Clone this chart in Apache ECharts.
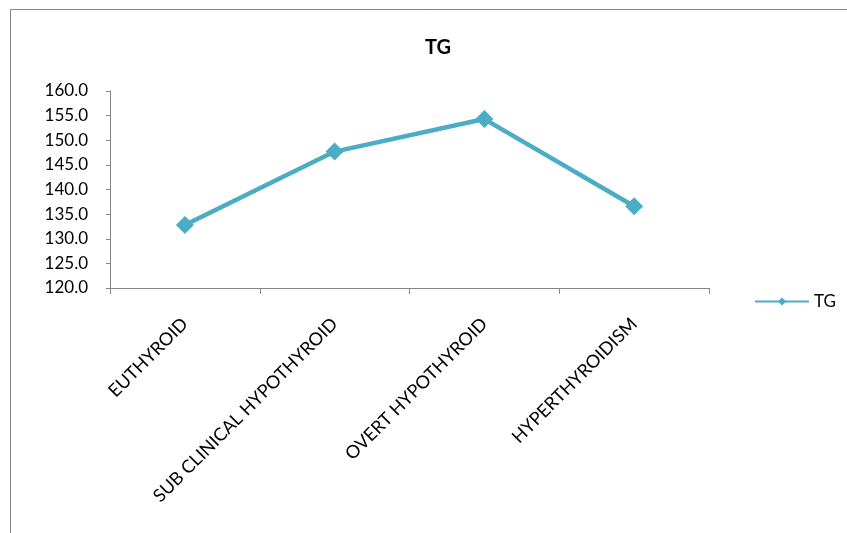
<!DOCTYPE html>
<html><head><meta charset="utf-8">
<script src="https://cdn.jsdelivr.net/npm/echarts@6/dist/echarts.min.js"></script>
<style>html,body{margin:0;padding:0;background:#fff}#c{width:847px;height:533px}</style>
</head><body><div id="c"></div>
<script>
const categories = ["EUTHYROID", "SUB CLINICAL HYPOTHYROID", "OVERT HYPOTHYROID", "HYPERTHYROIDISM"];
const tgValues = [132.8, 147.7, 154.3, 136.6];
const seriesName = "TG";
const chartTitle = "TG";

const font = "Lato, 'Open Sans', sans-serif";
const chart = echarts.init(document.getElementById('c'));
chart.setOption({
  animation: false,
  backgroundColor: '#fff',
  graphic: [{
    type: 'rect', shape: {x: 10.5, y: 9.5, width: 900, height: 600},
    style: {fill: 'none', stroke: '#868686', lineWidth: 1}, silent: true
  }],
  title: {
    text: chartTitle, left: 433, top: 33, textAlign: 'center',
    textStyle: {fontFamily: font, fontWeight: 'bold', fontSize: 20, color: '#000'}
  },
  legend: {
    data: [seriesName], left: 749, top: 288, itemWidth: 54, itemHeight: 10, itemGap: 4,
    textStyle: {fontFamily: font, fontSize: 17, color: '#000'}
  },
  grid: {left: 110, top: 91, right: 138, bottom: 245, containLabel: false},
  xAxis: {
    type: 'category', data: categories, boundaryGap: true,
    axisLine: {lineStyle: {color: '#868686', width: 1}},
    axisTick: {show: true, length: 6, lineStyle: {color: '#868686'}},
    axisLabel: {rotate: 45, interval: 0, margin: 33, fontFamily: font, fontSize: 18, color: '#000'}
  },
  yAxis: {
    type: 'value', min: 120, max: 160, interval: 5,
    axisLine: {show: true, lineStyle: {color: '#868686', width: 1}},
    axisTick: {show: true, length: 4, lineStyle: {color: '#868686'}},
    splitLine: {show: false},
    axisLabel: {formatter: v => v.toFixed(1), margin: 22, fontFamily: font, fontSize: 17, color: '#000'}
  },
  series: [{
    name: seriesName, type: 'line', data: tgValues,
    symbol: 'diamond', symbolSize: 18,
    lineStyle: {color: '#4BACC6', width: 4.5},
    itemStyle: {color: '#4BACC6'}
  }]
});
</script></body></html>
